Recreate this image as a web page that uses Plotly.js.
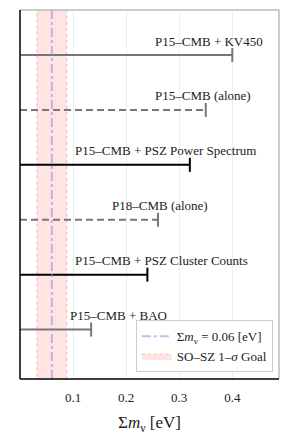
<!DOCTYPE html>
<html><head><meta charset="utf-8">
<script src="https://cdn.plot.ly/plotly-3.0.1.min.js"></script>
<style>html,body{margin:0;padding:0;background:#fff}#c{width:291px;height:436px}</style>
</head><body><div id="c"></div>
<script>
const labels = ["P15–CMB + KV450","P15–CMB (alone)","P15–CMB + PSZ Power Spectrum","P18–CMB (alone)","P15–CMB + PSZ Cluster Counts","P15–CMB + BAO"];
const upper = [0.40, 0.35, 0.32, 0.26, 0.24, 0.134];
const labelX = [0.25, 0.25, 0.10, 0.17, 0.10, 0.09];
const colors = ["#777777","#777777","#000000","#777777","#000000","#777777"];
const dashes = ["solid","7px,4px","solid","7px,4px","solid","solid"];
const mnu = 0.06;
const bandLo = 0.032, bandHi = 0.088;
const xTicks = [0.1,0.2,0.3,0.4];
const xRange = [0, 0.488];
const yRange = [5.9, -0.82];
const SERIF = '"Liberation Serif", "Times New Roman", Times, serif';

const traces = [];
traces.push({x:[bandLo,bandHi,bandHi,bandLo,bandLo], y:[yRange[0],yRange[0],yRange[1],yRange[1],yRange[0]],
  type:'scatter', mode:'lines', fill:'toself', fillcolor:'rgba(255,120,120,0.2)',
  line:{color:'rgba(255,150,150,0.45)', width:1.5, dash:'dot'}, name:'SO–SZ 1–<i>σ</i> Goal', showlegend:true, legendrank:2, hoverinfo:'skip'});
labels.forEach((l,i)=>{
  traces.push({x:[0, upper[i]], y:[i,i], type:'scatter', mode:'lines',
    line:{color:colors[i], width:2, dash:dashes[i]}, showlegend:false, hoverinfo:'skip'});
  traces.push({x:[upper[i]], y:[i], type:'scatter', mode:'markers',
    marker:{symbol:'line-ns-open', size:10, color:colors[i], line:{color:colors[i], width:2}}, showlegend:false, hoverinfo:'skip'});
});
traces.push({x:[mnu,mnu], y:[yRange[0],yRange[1]], type:'scatter', mode:'lines',
  line:{color:'rgba(150,130,235,0.55)', width:2, dash:'dashdot'}, name:'Σ<i>m</i><sub>ν</sub> = 0.06 [eV]', showlegend:true, legendrank:1, hoverinfo:'skip'});

const ann = labels.map((l,i)=>({x:labelX[i], y:i, xref:'x', yref:'y', text:l, showarrow:false,
  xanchor:'left', yanchor:'middle', yshift:14, font:{family:SERIF, size:13, color:'#222'}}));

const layout = {
  width:291, height:436, margin:{l:19.5, r:11.5, t:10, b:57},
  paper_bgcolor:'#fff', plot_bgcolor:'#fff',
  xaxis:{range:xRange, tickvals:xTicks, ticktext:xTicks.map(v=>v.toFixed(1)), showgrid:true, gridcolor:'#eeeeee', gridwidth:1,
    zeroline:false, showline:false, ticks:'', ticklabelstandoff:9, tickfont:{family:SERIF, size:13, color:'#222'},
    title:{text:'Σ<i>m</i><sub>ν</sub> [eV]', font:{family:SERIF, size:17, color:'#222'}, standoff:12}},
  yaxis:{range:yRange, showticklabels:false, showgrid:false, zeroline:false, showline:false, ticks:''},
  showlegend:true,
  legend:{x:0.976, y:0.018, xanchor:'right', yanchor:'bottom', bgcolor:'rgba(255,255,255,0.85)', bordercolor:'#cccccc', borderwidth:1,
    font:{family:SERIF, size:13, color:'#222'}, traceorder:'normal', itemwidth:30},
  annotations:ann,
  shapes:[
    {type:'line', xref:'paper', yref:'paper', x0:0, x1:1, y0:1, y1:1, line:{color:'#bbbbbb', width:1.5}},
    {type:'line', xref:'paper', yref:'paper', x0:1, x1:1, y0:0, y1:1, line:{color:'#bbbbbb', width:1.5}},
    {type:'line', xref:'paper', yref:'paper', x0:0, x1:0, y0:0, y1:1, line:{color:'#000', width:1.5}},
    {type:'line', xref:'paper', yref:'paper', x0:0, x1:1, y0:0, y1:0, line:{color:'#000', width:1.5}}
  ]
};
Plotly.newPlot('c', traces, layout, {displayModeBar:false, staticPlot:true});
</script></body></html>
